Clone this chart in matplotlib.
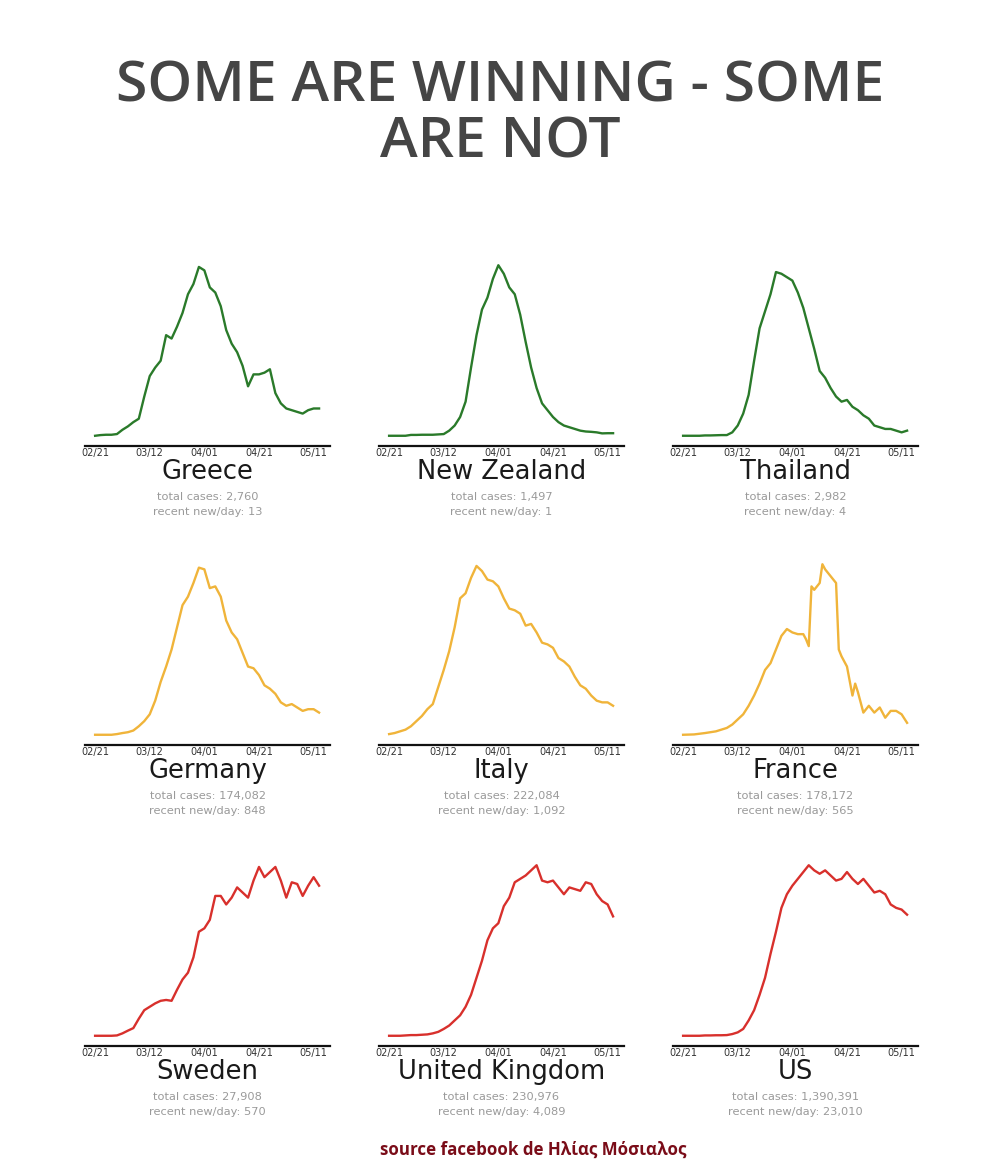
import matplotlib
matplotlib.use("Agg")
import matplotlib.pyplot as plt

# days since 02/21, sampled every 2 days
days = list(range(0, 84, 2))

greece = [0, 0.4, 0.6, 0.6, 1, 3.5, 5.5, 8, 10, 23, 35, 40, 44, 59, 57, 64, 72, 83, 89, 99, 97,
          87, 84, 76, 62, 54, 49, 41, 29, 36, 36, 37, 39, 25, 19, 16, 15, 14, 13, 15, 16, 16]
new_zealand = [0, 0, 0, 0, 0.5, 0.5, 0.6, 0.6, 0.6, 0.8, 1, 3, 6, 11, 20, 40, 59, 74, 81, 92, 100,
               95, 87, 83, 71, 55, 40, 28, 19, 15, 11, 8, 6, 5, 4, 3, 2.5, 2.3, 2, 1.4, 1.5, 1.5]
thailand = [0, 0, 0, 0, 0.2, 0.2, 0.3, 0.4, 0.4, 2, 6, 13, 24, 44, 63, 73, 83, 96, 95, 93, 91,
            84, 75, 63, 51, 38, 34, 28, 23, 20, 21, 17, 15, 12, 10, 6, 5, 4, 4, 3, 2, 3]
germany = [0, 0, 0, 0, 0.4, 1, 1.5, 2.5, 5, 8, 12, 20, 31, 40, 50, 63, 76, 81, 89, 98, 97,
           86, 87, 81, 67, 60, 56, 48, 40, 39, 35, 29, 27, 24, 19, 17, 18, 16, 14, 15, 15, 13]
italy = [0.4, 1, 2, 3, 5, 8, 11, 15, 18, 28, 38, 49, 63, 80, 83, 92, 99, 96, 91, 90, 87,
         80, 74, 73, 71, 64, 65, 60, 54, 53, 51, 45, 43, 40, 34, 29, 27, 23, 20, 19, 19, 17]
sweden = [0, 0, 0, 0, 0.2, 1.4, 3, 4.5, 10, 15, 17, 19, 20.5, 21, 20.5, 27, 33, 37, 46, 61, 63,
          68, 82, 82, 77, 81, 87, 84, 81, 91, 99, 93, 96, 99, 91, 81, 90, 89, 82, 88, 93, 88]
united_kingdom = [0, 0, 0, 0.2, 0.4, 0.4, 0.6, 0.8, 1.4, 2.3, 4, 6, 9, 12, 17, 24, 34, 44, 56, 63, 66,
                  76, 81, 90, 92, 94, 97, 100, 91, 90, 91, 87, 83, 87, 86, 85, 90, 89, 83, 79, 77, 70]
us = [0, 0, 0, 0, 0.2, 0.2, 0.3, 0.3, 0.4, 1, 2, 4, 9, 15, 24, 34, 48, 61, 75, 83, 88,
      92, 96, 100, 97, 95, 97, 94, 91, 92, 96, 92, 89, 92, 88, 84, 85, 83, 77, 75, 74, 71]

# France has sharp one-day jumps, so it keeps its own day list
france_days = [0, 4, 8, 12, 14, 16, 18, 20, 22, 24, 26, 28, 30, 32, 34, 36, 38, 40, 42, 44, 45,
               46, 47, 48, 50, 51, 52, 54, 56, 57, 58, 60, 62, 63, 64, 66, 68, 70, 72, 74, 76,
               78, 80, 82]
france = [0, 0.2, 1, 2, 3, 4, 6, 9, 12, 17, 23, 30, 38, 42, 50, 58, 62, 60, 59, 59, 56,
          52, 87, 85, 89, 100, 97, 93, 89, 50, 46, 40, 23, 30, 25, 13, 17, 13, 16, 10, 14,
          14, 12, 7]

countries = ["Greece", "New Zealand", "Thailand",
             "Germany", "Italy", "France",
             "Sweden", "United Kingdom", "US"]
series = [(days, greece), (days, new_zealand), (days, thailand),
          (days, germany), (days, italy), (france_days, france),
          (days, sweden), (days, united_kingdom), (days, us)]
total_cases = ["2,760", "1,497", "2,982", "174,082", "222,084", "178,172",
               "27,908", "230,976", "1,390,391"]
new_per_day = ["13", "1", "4", "848", "1,092", "565", "570", "4,089", "23,010"]
row_colors = ["#2a7a2a", "#f0b43a", "#d8302c"]

tick_days = [0, 20, 40, 60, 80]
tick_labels = ["02/21", "03/12", "04/01", "04/21", "05/11"]

W, H = 1000, 1168
fig = plt.figure(figsize=(W / 100, H / 100), dpi=100)
fig.patch.set_facecolor("white")

fig.text(0.5, 1 - 88 / H, "SOME ARE WINNING - SOME", ha="center", va="center",
         fontsize=41, color="#454545", family="Open Sans", weight="semibold")
fig.text(0.5, 1 - 143 / H, "ARE NOT", ha="center", va="center",
         fontsize=41, color="#454545", family="Open Sans", weight="semibold")

lefts = [85, 379, 673]
axis_lines = [446, 745, 1046]
aw, ah = 245, 191

for i, name in enumerate(countries):
    r, c = divmod(i, 3)
    x0 = lefts[c]
    y_line = axis_lines[r]
    ax = fig.add_axes([x0 / W, 1 - y_line / H, aw / W, ah / H])
    xs, ys = series[i]
    ax.plot(xs, ys, color=row_colors[r], lw=1.7, solid_joinstyle="round")
    ax.set_xlim(-3.7, 86)
    ax.set_ylim(-6, 106)
    for s in ["top", "right", "left"]:
        ax.spines[s].set_visible(False)
    ax.spines["bottom"].set_linewidth(1.6)
    ax.spines["bottom"].set_color("#111111")
    ax.set_yticks([])
    ax.set_xticks(tick_days)
    ax.set_xticklabels(tick_labels, fontsize=7, color="#333333")
    ax.tick_params(axis="x", length=0, pad=1.5)

    cx = (x0 + aw / 2) / W
    fig.text(cx, 1 - (y_line + 26) / H, name, ha="center", va="center",
             fontsize=18.5, color="#1a1a1a")
    fig.text(cx, 1 - (y_line + 51) / H, "total cases: " + total_cases[i],
             ha="center", va="center", fontsize=8.2, color="#9a9a9a")
    fig.text(cx, 1 - (y_line + 66) / H, "recent new/day: " + new_per_day[i],
             ha="center", va="center", fontsize=8.2, color="#9a9a9a")

fig.text(533 / W, 1 - 1150 / H, "source facebook de Ηλίας Μόσιαλος", ha="center", va="center",
         fontsize=12.2, color="#7a0c18", family="Open Sans", weight="bold")

fig.savefig("out.png", dpi=100, facecolor="white")
